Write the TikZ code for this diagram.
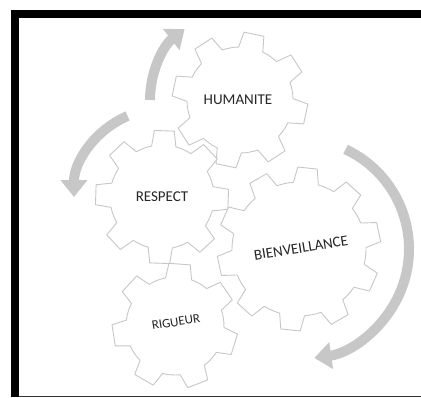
\documentclass[tikz,border=0pt]{standalone}
\usepackage{fontspec}
\setmainfont{Carlito}
\usetikzlibrary{arrows.meta}

\begin{document}
\begin{tikzpicture}[x=1pt, y=-1pt,
    gearline/.style={draw=black!22, fill=white, line width=0.9pt, line join=round},
    flowarrow/.style={draw=black!22, line width=10pt, -{Triangle[width=26pt, length=17pt]}},
    word/.style={text=black!85, font=\fontsize{15}{15}\selectfont, inner sep=0pt},
    pics/gear/.style args={#1/#2/#3}{code={
        \pgfmathsetmacro\st{360/#1}
        \draw[gearline] (-0.3*\st:#2)
            \foreach \k in {1,...,#1} {
                -- ({(\k-1)*\st-0.19*\st}:#3) -- ({(\k-1)*\st+0.19*\st}:#3)
                -- ({(\k-1)*\st+0.3*\st}:#2)
                arc[start angle={(\k-1)*\st+0.3*\st}, end angle={\k*\st-0.3*\st}, radius=#2]
            } -- cycle;
    }}]
    \useasboundingbox (0,0) rectangle (421,397);

    % Cadre
    \fill[black] (11,10) rectangle (421,18);
    \fill[black] (11,10) rectangle (19,397);
    \draw[black!80, line width=1pt] (19,396) -- (421,396);

    % Centres des engrenages
    \coordinate (humc) at (240,100);
    \coordinate (resc) at (162,197);
    \coordinate (bienc) at (299,249);
    \coordinate (rigc) at (175,326);

    % Fleches
    \draw[flowarrow] (humc) ++(180:90) arc[start angle=180, end angle=232, radius=90];
    \draw[flowarrow] (resc) ++(247:88) arc[start angle=247, end angle=180, radius=88];
    \draw[flowarrow] (bienc) ++(-65:110) arc[start angle=-65, end angle=82, radius=110];

    % Engrenages
    \pic[rotate=-102] at (humc) {gear={8/53/68}};
    \pic[rotate=-92] at (resc) {gear={8/52/67}};
    \pic[rotate=-96] at (bienc) {gear={10/67/82}};
    \pic[rotate=-120] at (rigc) {gear={7/49/63}};

    % Textes
    \node[word] (hum) at (238,100) {HUMANITE};
    \node[word] (res) at (162,197) {RESPECT};
    \node[word, rotate=9] (bien) at (301,248) {BIENVEILLANCE};
    \node[word, rotate=9, font=\fontsize{13}{13}\selectfont] (rig) at (176,322) {RIGUEUR};
\end{tikzpicture}
\end{document}
